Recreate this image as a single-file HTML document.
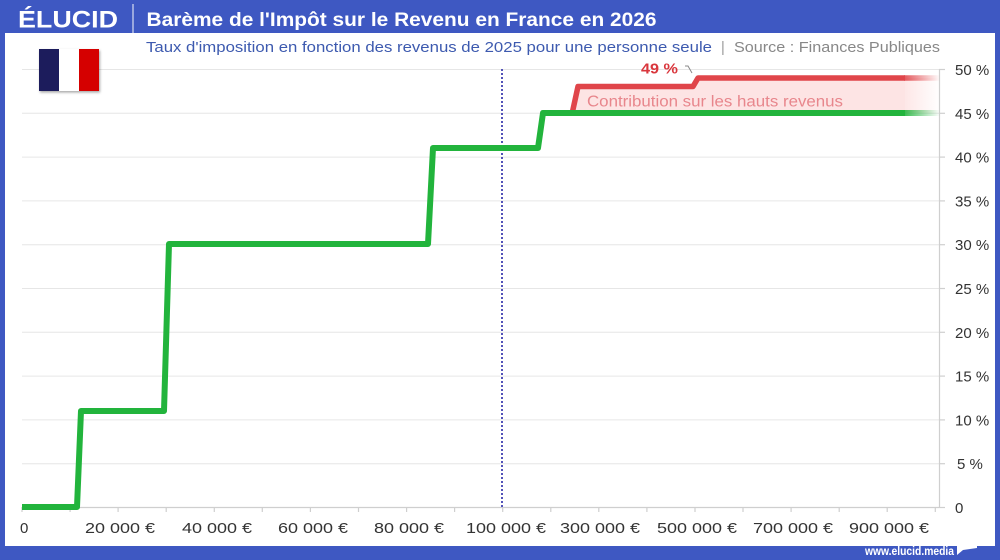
<!DOCTYPE html>
<html><head><meta charset="utf-8"><style>
html,body{margin:0;padding:0;background:#3e58c2;}
svg{display:block;}
text{font-family:"Liberation Sans",sans-serif;}
</style></head><body>
<svg width="1000" height="560" viewBox="0 0 1000 560" xmlns="http://www.w3.org/2000/svg">
<defs>
<linearGradient id="fg" gradientUnits="userSpaceOnUse" x1="900" y1="0" x2="940" y2="0">
<stop offset="0" stop-color="#22b43c" stop-opacity="1"/><stop offset="1" stop-color="#22b43c" stop-opacity="0"/></linearGradient>
<linearGradient id="fr" gradientUnits="userSpaceOnUse" x1="900" y1="0" x2="940" y2="0">
<stop offset="0" stop-color="#e0454a" stop-opacity="1"/><stop offset="1" stop-color="#e0454a" stop-opacity="0"/></linearGradient>
<linearGradient id="fp" gradientUnits="userSpaceOnUse" x1="900" y1="0" x2="940" y2="0">
<stop offset="0" stop-color="#fde4e4" stop-opacity="1"/><stop offset="1" stop-color="#fde4e4" stop-opacity="0"/></linearGradient>
<filter id="sh" x="-20%" y="-20%" width="150%" height="150%"><feDropShadow dx="1" dy="1.5" stdDeviation="1.2" flood-color="#000" flood-opacity="0.35"/></filter>
</defs>
<rect x="0" y="0" width="1000" height="560" fill="#3e58c2"/>
<rect x="5" y="33" width="990" height="513" fill="#ffffff"/>
<!-- header -->
<text x="18" y="27.5" font-size="24" font-weight="bold" fill="#fff" textLength="100" lengthAdjust="spacingAndGlyphs">ÉLUCID</text>
<line x1="133" y1="4" x2="133" y2="33" stroke="#fff" stroke-width="1.2" opacity="0.8"/>
<text x="146.5" y="26" font-size="19.5" font-weight="bold" fill="#fff" textLength="510" lengthAdjust="spacingAndGlyphs">Barème de l'Impôt sur le Revenu en France en 2026</text>
<!-- subtitle -->
<text x="146" y="52" font-size="14.5" fill="#3d5aaf" textLength="566" lengthAdjust="spacingAndGlyphs">Taux d'imposition en fonction des revenus de 2025 pour une personne seule</text>
<text x="721" y="52" font-size="14.5" fill="#999">|</text>
<text x="734" y="52" font-size="14.5" fill="#888" textLength="206" lengthAdjust="spacingAndGlyphs">Source : Finances Publiques</text>
<!-- gridlines -->
<g stroke="#e6e6e6" stroke-width="1">
<line x1="22" y1="69.5" x2="939" y2="69.5"/>
<line x1="22" y1="113.3" x2="939" y2="113.3"/>
<line x1="22" y1="157.1" x2="939" y2="157.1"/>
<line x1="22" y1="200.9" x2="939" y2="200.9"/>
<line x1="22" y1="244.7" x2="939" y2="244.7"/>
<line x1="22" y1="288.5" x2="939" y2="288.5"/>
<line x1="22" y1="332.3" x2="939" y2="332.3"/>
<line x1="22" y1="376.1" x2="939" y2="376.1"/>
<line x1="22" y1="419.9" x2="939" y2="419.9"/>
<line x1="22" y1="463.7" x2="939" y2="463.7"/>
</g>
<!-- flag -->
<g filter="url(#sh)">
<rect x="39" y="49" width="20" height="42" fill="#1b1b5c"/>
<rect x="59" y="49" width="20" height="42" fill="#ffffff"/>
<rect x="79" y="49" width="20" height="42" fill="#d50000"/>
</g>
<!-- axes -->
<line x1="22" y1="507.5" x2="939" y2="507.5" stroke="#cfcfcf" stroke-width="1.2"/>
<line x1="939.5" y1="69" x2="939.5" y2="508" stroke="#cfcfcf" stroke-width="1.2"/>
<g stroke="#cfcfcf" stroke-width="1.2">
<line x1="939" y1="69.5" x2="945" y2="69.5"/><line x1="939" y1="113.3" x2="945" y2="113.3"/>
<line x1="939" y1="157.1" x2="945" y2="157.1"/><line x1="939" y1="200.9" x2="945" y2="200.9"/>
<line x1="939" y1="244.7" x2="945" y2="244.7"/><line x1="939" y1="288.5" x2="945" y2="288.5"/>
<line x1="939" y1="332.3" x2="945" y2="332.3"/><line x1="939" y1="376.1" x2="945" y2="376.1"/>
<line x1="939" y1="419.9" x2="945" y2="419.9"/><line x1="939" y1="463.7" x2="945" y2="463.7"/>
<line x1="939" y1="507.5" x2="945" y2="507.5"/>
<line x1="22" y1="507" x2="22" y2="512"/><line x1="70.1" y1="507" x2="70.1" y2="512"/>
<line x1="118.1" y1="507" x2="118.1" y2="512"/><line x1="166.2" y1="507" x2="166.2" y2="512"/>
<line x1="214.3" y1="507" x2="214.3" y2="512"/><line x1="262.3" y1="507" x2="262.3" y2="512"/>
<line x1="310.4" y1="507" x2="310.4" y2="512"/><line x1="358.5" y1="507" x2="358.5" y2="512"/>
<line x1="406.6" y1="507" x2="406.6" y2="512"/><line x1="454.6" y1="507" x2="454.6" y2="512"/>
<line x1="502.7" y1="507" x2="502.7" y2="512"/><line x1="550.8" y1="507" x2="550.8" y2="512"/>
<line x1="598.8" y1="507" x2="598.8" y2="512"/><line x1="646.9" y1="507" x2="646.9" y2="512"/>
<line x1="695" y1="507" x2="695" y2="512"/><line x1="743" y1="507" x2="743" y2="512"/>
<line x1="791.1" y1="507" x2="791.1" y2="512"/><line x1="839.2" y1="507" x2="839.2" y2="512"/>
<line x1="887.2" y1="507" x2="887.2" y2="512"/><line x1="935.3" y1="507" x2="935.3" y2="512"/>
</g>
<!-- y labels -->
<g font-size="15" fill="#333">
<text x="955" y="75">50 %</text><text x="955" y="118.8">45 %</text>
<text x="955" y="162.6">40 %</text><text x="955" y="206.4">35 %</text>
<text x="955" y="250.2">30 %</text><text x="955" y="294">25 %</text>
<text x="955" y="337.8">20 %</text><text x="955" y="381.6">15 %</text>
<text x="955" y="425.4">10 %</text><text x="957" y="469.2">5 %</text>
<text x="955" y="513">0</text>
</g>
<!-- x labels -->
<g font-size="15" fill="#333">
<text x="20" y="533">0</text>
<text x="85" y="533" textLength="70" lengthAdjust="spacingAndGlyphs">20 000 €</text>
<text x="182" y="533" textLength="70" lengthAdjust="spacingAndGlyphs">40 000 €</text>
<text x="278" y="533" textLength="70" lengthAdjust="spacingAndGlyphs">60 000 €</text>
<text x="374" y="533" textLength="70" lengthAdjust="spacingAndGlyphs">80 000 €</text>
<text x="466" y="533" textLength="80" lengthAdjust="spacingAndGlyphs">100 000 €</text>
<text x="560" y="533" textLength="80" lengthAdjust="spacingAndGlyphs">300 000 €</text>
<text x="657" y="533" textLength="80" lengthAdjust="spacingAndGlyphs">500 000 €</text>
<text x="753" y="533" textLength="80" lengthAdjust="spacingAndGlyphs">700 000 €</text>
<text x="849" y="533" textLength="80" lengthAdjust="spacingAndGlyphs">900 000 €</text>
</g>
<!-- pink fill -->
<polygon points="572,113 578,86.5 693,86.5 698,78 939,78 939,113" fill="url(#fp)"/>
<polygon points="572,113 578,86.5 693,86.5 698,78 905,78 905,113" fill="#fde4e4"/>
<!-- dotted line -->
<line x1="502" y1="69" x2="502" y2="507" stroke="#5252b8" stroke-width="2" stroke-dasharray="2,2"/>
<!-- red line -->
<path d="M572,114 L578,86.5 L693,86.5 L698,78 L905,78" fill="none" stroke="#e0454a" stroke-width="5.5" stroke-linejoin="round"/>
<line x1="904" y1="78" x2="940" y2="78" stroke="url(#fr)" stroke-width="5.5"/>
<!-- green line -->
<path d="M22,507 L77,507 L81,411 L164,411 L169,244 L428,244 L433,148 L538,148 L543,113 L905,113" fill="none" stroke="#22b43c" stroke-width="6" stroke-linejoin="round"/>
<line x1="904" y1="113" x2="940" y2="113" stroke="url(#fg)" stroke-width="6"/>
<!-- annotations -->
<text x="587" y="106.5" font-size="15.5" fill="#e8868c" textLength="256" lengthAdjust="spacingAndGlyphs">Contribution sur les hauts revenus</text>
<text x="641" y="73.5" font-size="15" font-weight="bold" fill="#d9363c" textLength="37" lengthAdjust="spacingAndGlyphs">49 %</text>
<path d="M685,66 L688,66 L692,73" fill="none" stroke="#888" stroke-width="1"/>
<!-- footer -->
<text x="865" y="555" font-size="11.5" font-weight="bold" fill="#fff" textLength="89" lengthAdjust="spacingAndGlyphs">www.elucid.media</text>
<polygon points="957,545 977,540 977,548 963,550 957,555" fill="#fff"/>
</svg>
</body></html>
